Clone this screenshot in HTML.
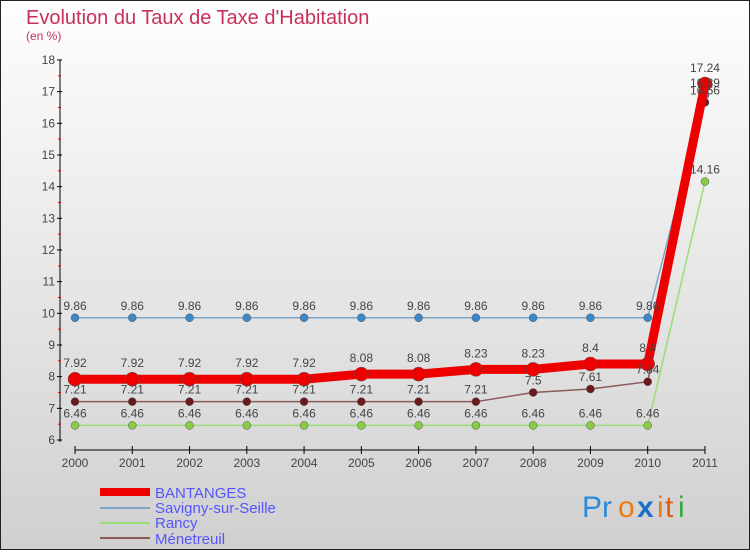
<!DOCTYPE html>
<html><head><meta charset="utf-8"><style>
body{margin:0;width:750px;height:550px;overflow:hidden;font-family:"Liberation Sans",sans-serif}
</style></head><body>
<svg id="c" width="750" height="550" xmlns="http://www.w3.org/2000/svg">
<defs><linearGradient id="bg" x1="0" y1="0" x2="0" y2="1"><stop offset="0" stop-color="#fefefe"/><stop offset="1" stop-color="#d0d0d0"/></linearGradient></defs>
<rect x="0.5" y="0.5" width="749" height="549" fill="url(#bg)" stroke="#222"/>
<text x="26" y="24" font-size="20" fill="#c8305a">Evolution du Taux de Taxe d'Habitation</text>
<text x="26" y="40" font-size="12" fill="#c8305a">(en %)</text>
<g id="axes"></g><g id="series"></g><g id="labels"></g>
<g font-size="15" fill="#5555ff">
<line x1="100" y1="492" x2="150" y2="492" stroke="#e00" stroke-width="8"/><text x="155" y="498">BANTANGES</text>
<line x1="100" y1="508" x2="150" y2="508" stroke="#7fa6c8" stroke-width="2"/><text x="155" y="513">Savigny-sur-Seille</text>
<line x1="100" y1="523" x2="150" y2="523" stroke="#99dd77" stroke-width="2"/><text x="155" y="528">Rancy</text>
<line x1="100" y1="538" x2="150" y2="538" stroke="#8b5a5a" stroke-width="2"/><text x="155" y="544">Ménetreuil</text>
</g>
<g font-size="30">
<text x="582" y="517" fill="#2a8ad8">Pr</text><text x="618" y="517" fill="#f07a10">o</text><text x="637" y="517" fill="#1a70c8" font-weight="bold">x</text><text x="657" y="517" fill="#f07a10">i</text><text x="665" y="517" fill="#e05a10">t</text><text x="678" y="517" fill="#3aa83a">i</text>
</g>
</svg>
<script>
const years=[2000,2001,2002,2003,2004,2005,2006,2007,2008,2009,2010,2011];
const bantanges=[7.92,7.92,7.92,7.92,7.92,8.08,8.08,8.23,8.23,8.4,8.4,17.24];
const savigny=[9.86,9.86,9.86,9.86,9.86,9.86,9.86,9.86,9.86,9.86,9.86,16.89];
const rancy=[6.46,6.46,6.46,6.46,6.46,6.46,6.46,6.46,6.46,6.46,6.46,14.16];
const menetreuil=[7.21,7.21,7.21,7.21,7.21,7.21,7.21,7.21,7.5,7.61,7.84,16.66];
const yTicks=[6,7,8,9,10,11,12,13,14,15,16,17,18];
const NS="http://www.w3.org/2000/svg";
const X=i=>75+i*57.27, Y=v=>440-(v-6)*31.67;
function mk(p,t,a){const e=document.createElementNS(NS,t);for(const k in a)e.setAttribute(k,a[k]);p.appendChild(e);return e;}
const ax=document.getElementById('axes');
const yl=mk(ax,'line',{x1:60,y1:60,x2:60,y2:442,stroke:'#000'});


yTicks.forEach(v=>{mk(ax,'line',{x1:57,x2:62,y1:Y(v),y2:Y(v),stroke:'#000'});
 if(v<18)mk(ax,'line',{x1:58,x2:61,y1:Y(v+0.5),y2:Y(v+0.5),stroke:'#e00'});
 const t=mk(ax,'text',{x:55,y:Y(v)+4,'text-anchor':'end','font-size':12,fill:'#444'});t.textContent=v;
 
 });
const xl=mk(ax,'line',{x1:X(0),y1:450,x2:X(11),y2:450,stroke:'#000'});


years.forEach((y,i)=>{mk(ax,'line',{x1:X(i),x2:X(i),y1:446,y2:454,stroke:'#000'});
 const t=mk(ax,'text',{x:X(i),y:467,'text-anchor':'middle','font-size':12,fill:'#444'});t.textContent=y;
 
 });
const sg=document.getElementById('series'),lg=document.getElementById('labels');
function draw(d,name,col,dot,w,r,dy){
 const g=mk(sg,'g',{});
 
 
 mk(g,'polyline',{points:d.map((v,i)=>X(i)+','+Y(v)).join(' '),fill:'none',stroke:col,'stroke-width':w});
 d.forEach((v,i)=>{const c=mk(g,'circle',{cx:X(i),cy:Y(v),r:r,fill:dot,stroke:'#555','stroke-width':0.5});
  
  
  const t=mk(lg,'text',{x:X(i),y:Y(v)+dy,'text-anchor':'middle','font-size':12,fill:'#444'});t.textContent=v;
  
  });
}
draw(rancy,'rancy-series','#99dd77','#88cc44',1.5,4,-8);
draw(menetreuil,'menetreuil-series','#8b5a5a','#6a1a1a',1.5,4,-8);
draw(savigny,'savigny-series','#7fa6c8','#3a88c8',1.5,4,-8);
draw(bantanges,'bantanges-series','#ee0000','#ee0000',9,7,-12);
</script>
</body></html>
